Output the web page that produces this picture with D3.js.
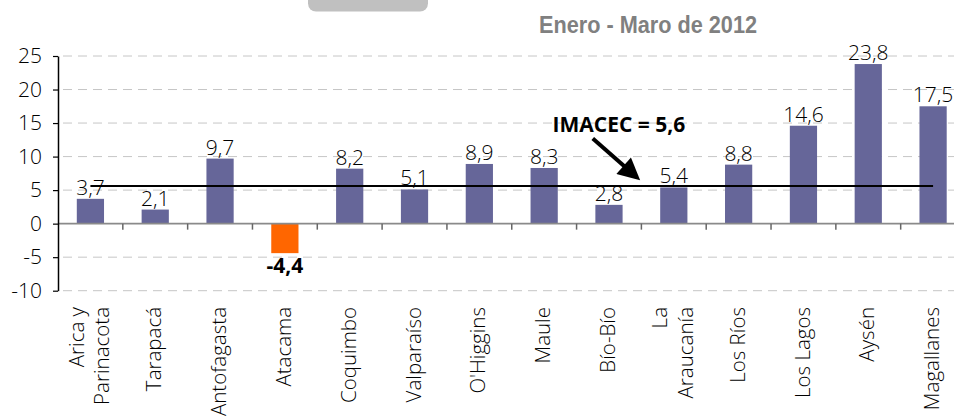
<!DOCTYPE html>
<html>
<head>
<meta charset="utf-8">
<script src="https://cdn.jsdelivr.net/npm/d3@7"></script>
<style>
  body { margin: 0; background: #fff; }
  svg { display: block; }
</style>
</head>
<body>
<script>
// data
var regions = ["Arica y\nParinacota", "Tarapacá", "Antofagasta", "Atacama", "Coquimbo", "Valparaíso",
    "O'Higgins", "Maule", "Bío-Bío", "La\nAraucanía", "Los Ríos", "Los Lagos", "Aysén", "Magallanes"];
var growth = [3.7, 2.1, 9.7, -4.4, 8.2, 5.1, 8.9, 8.3, 2.8, 5.4, 8.8, 14.6, 23.8, 17.5];
var yTicks = [-10, -5, 0, 5, 10, 15, 20, 25];
var imacec = 5.6;
var title = "Enero - Maro de 2012";
var imacecText = "IMACEC = 5,6";

// settings
var W = 954, H = 420,
    plot = {left: 58, right: 965.5, top: 56, bottom: 290.7},
    font = {family: "'Open Sans', sans-serif", size: "21px", cat: "20.5px", light: 300},
    col = {bar: "#666699", neg: "#ff6600", grid: "#c6c6c6", zero: "#8a8a8a", title: "#808080"};

var loc = d3.formatLocale({decimal: ",", thousands: ".", grouping: [3], currency: ["$", ""], minus: "-"});
var fmtVal = loc.format(".1f"),
    fmtTick = loc.format("d");

var svg = d3.select("body").append("svg")
    .attr("width", W)
    .attr("height", H)
    .attr("font-family", font.family);

var x = d3.scaleBand()
    .domain(regions)
    .range([plot.left, plot.right])
    .padding(0);

var y = d3.scaleLinear()
    .domain([-10, 25])
    .range([plot.bottom, plot.top]);

// band position helper (fractional band index -> px)
var bx = function(i) { return plot.left + i * x.step(); };
var barW = x.bandwidth() * 0.42;

// grey pill at the top
svg.append("rect")
    .attr("x", 308).attr("y", -8)
    .attr("width", 120).attr("height", 19.5)
    .attr("rx", 8)
    .attr("fill", "#c0c0c0");

// title
svg.append("text")
    .attr("x", 539)
    .attr("y", 33)
    .attr("font-family", "'Liberation Sans Narrow', 'Liberation Sans', Arial, sans-serif")
    .attr("font-weight", "bold")
    .attr("font-size", "24px")
    .attr("textLength", 218)
    .attr("lengthAdjust", "spacingAndGlyphs")
    .attr("fill", col.title)
    .text(title);

// gridlines
svg.append("g")
    .selectAll("line")
    .data(yTicks.filter(function(d) { return d !== 0; }))
    .enter().append("line")
        .attr("x1", plot.left + 5)
        .attr("x2", W)
        .attr("y1", function(d) { return y(d); })
        .attr("y2", function(d) { return y(d); })
        .attr("stroke", col.grid)
        .attr("stroke-width", 1)
        .attr("stroke-dasharray", "9,6");

// bars
svg.append("g")
    .selectAll("rect")
    .data(growth)
    .enter().append("rect")
        .attr("x", function(d, i) { return x(regions[i]) + (x.bandwidth() - barW) / 2; })
        .attr("y", function(d) { return y(Math.max(0, d)); })
        .attr("width", barW)
        .attr("height", function(d) { return Math.abs(y(d) - y(0)); })
        .attr("fill", function(d) { return d < 0 ? col.neg : col.bar; });

// zero line + category ticks
svg.append("line")
    .attr("x1", plot.left).attr("x2", W)
    .attr("y1", y(0)).attr("y2", y(0))
    .attr("stroke", col.zero)
    .attr("stroke-width", 1.6);

svg.append("g")
    .selectAll("line")
    .data(regions.slice(1))
    .enter().append("line")
        .attr("x1", function(d) { return x(d); })
        .attr("x2", function(d) { return x(d); })
        .attr("y1", y(0))
        .attr("y2", y(0) + 6)
        .attr("stroke", "#666")
        .attr("stroke-width", 1.5);

// IMACEC line
svg.append("line")
    .attr("x1", x(regions[0]) + x.bandwidth() / 2)
    .attr("x2", x(regions[regions.length - 1]) + x.bandwidth() / 2)
    .attr("y1", y(imacec)).attr("y2", y(imacec))
    .attr("stroke", "#000")
    .attr("stroke-width", 2);

// value labels
svg.append("g")
    .selectAll("text")
    .data(growth)
    .enter().append("text")
        .attr("x", function(d, i) { return x(regions[i]) + x.bandwidth() / 2; })
        .attr("y", function(d) { return d < 0 ? y(d) + 20 : y(d) - 4; })
        .attr("text-anchor", "middle")
        .attr("font-size", font.size)
        .attr("font-weight", function(d) { return d < 0 ? "bold" : font.light; })
        .attr("fill", "#000")
        .text(function(d) { return fmtVal(d); });

// category labels (rotated)
var cat = svg.append("g")
    .selectAll("text")
    .data(regions)
    .enter().append("text")
        .attr("transform", function(d) {
            return "translate(" + (x(d) + x.bandwidth() / 2) + "," + 307 + ") rotate(-90)";
        })
        .attr("text-anchor", "end")
        .attr("font-size", font.cat)
        .attr("font-weight", font.light)
        .attr("fill", "#000");

cat.each(function(d) {
    var lines = d.split("\n");
    var t = d3.select(this);
    lines.forEach(function(l, j) {
        t.append("tspan")
            .attr("x", 0)
            .attr("y", 0)
            .attr("dy", (0.3 + (j - (lines.length - 1) / 2) * 1.25) + "em")
            .text(l);
    });
});

// y axis
var yAxis = svg.append("g")
    .attr("transform", "translate(" + plot.left + ",0)")
    .call(d3.axisLeft(y).tickValues(yTicks).tickFormat(fmtTick).tickSize(5).tickSizeOuter(0).tickPadding(11));
yAxis.select(".domain").attr("stroke", "#000").attr("stroke-width", 1.5);
yAxis.selectAll(".tick line").attr("stroke", "#000").attr("stroke-width", 1.2);
yAxis.selectAll(".tick text")
    .attr("font-family", font.family)
    .attr("font-size", font.size)
    .attr("font-weight", font.light)
    .attr("fill", "#000");

// annotation
var defs = svg.append("defs");
defs.append("marker")
    .attr("id", "arrowhead")
    .attr("viewBox", "0 0 10 10")
    .attr("refX", 8).attr("refY", 5)
    .attr("markerWidth", 6).attr("markerHeight", 5.5)
    .attr("orient", "auto")
    .append("path")
        .attr("d", "M0,0 L10,5 L0,10 z")
        .attr("fill", "#000");

svg.append("text")
    .attr("x", bx(7.63))
    .attr("y", y(13.6))
    .attr("font-size", "21px")
    .attr("font-weight", "bold")
    .attr("fill", "#000")
    .text(imacecText);

svg.append("line")
    .attr("x1", bx(8.25)).attr("y1", y(12.7))
    .attr("x2", bx(8.93)).attr("y2", y(6.9))
    .attr("stroke", "#000")
    .attr("stroke-width", 4)
    .attr("marker-end", "url(#arrowhead)");
</script>
</body>
</html>
